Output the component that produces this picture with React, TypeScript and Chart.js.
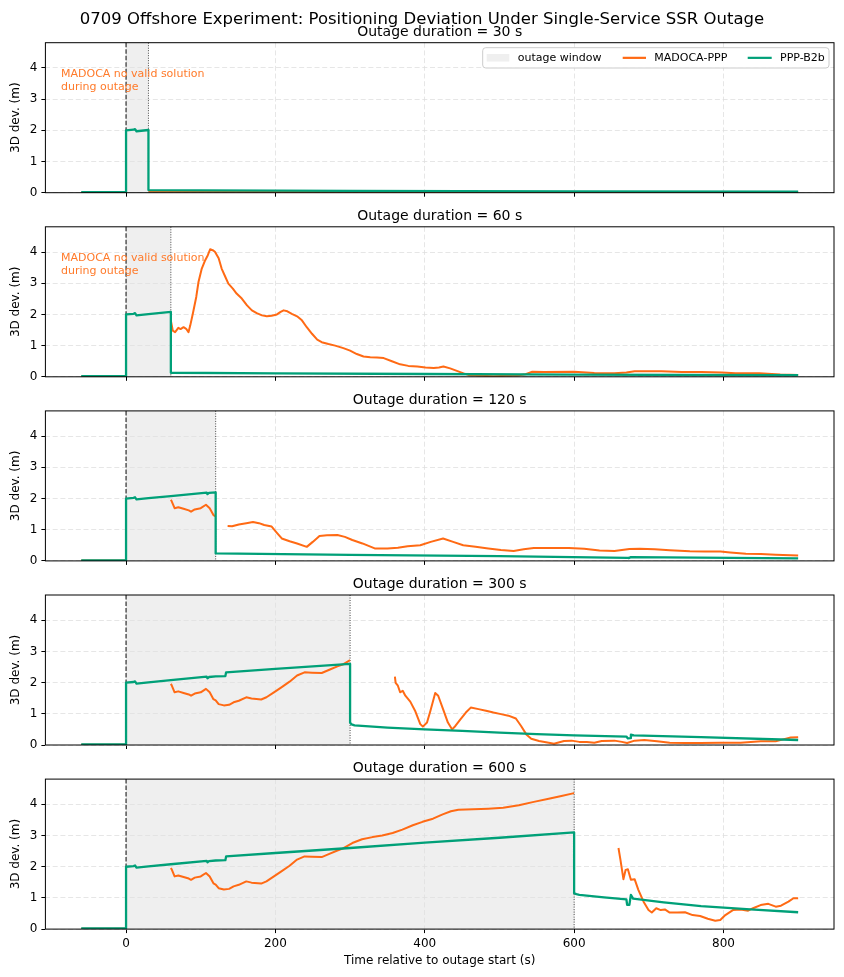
import React, { useEffect, useRef } from 'react';
import { Chart, registerables } from 'chart.js';

Chart.register(...registerables);

// ---------------------------------------------------------------------------
// Data
// ---------------------------------------------------------------------------
const DURATIONS = [30, 60, 120, 300, 600]; // outage length per run (s)
const MADOCA_NO_FIX = [true, true, false, false, false]; // MADOCA had no solution while SSR was out

const X_TICKS = [0, 200, 400, 600, 800];
const Y_TICKS = [0, 1, 2, 3, 4];
const X_MIN = -108;
const X_MAX = 948;
const Y_MIN = 0;
const Y_MAX = 4.81;

// lead-in before the outage starts
const PRE_T = [-60, -30, 0];
const B2B_PRE_V = [0.02, 0.02, 0.02];
const MADOCA_PRE_V = [0.01, 0.01, 0.01];

// PPP-B2b drift while the SSR stream is interrupted (common to all runs)
const B2B_OUTAGE_T = [0, 10, 12, 14, 30, 60, 108, 109, 111, 120, 133, 134, 200, 300, 400, 500, 600];
const B2B_OUTAGE_V = [2.0, 2.02, 2.04, 1.97, 2.01, 2.08, 2.19, 2.14, 2.18, 2.2, 2.21, 2.33, 2.44, 2.6, 2.77, 2.93, 3.1];

// MADOCA-PPP drift while its SSR stream is interrupted (runs >= 120 s)
const MADOCA_OUTAGE_T = [
  60, 61, 65, 70, 77, 84, 87, 92, 100, 107, 112, 117, 120, 124, 131, 138, 144, 151, 161, 168,
  181, 188, 198, 208, 219, 229, 239, 249, 262, 273, 283, 290, 300, 303, 316, 330, 343, 357, 370,
  384, 397, 411, 424, 435, 445, 465, 485, 505, 526, 546, 566, 583, 600,
];
const MADOCA_OUTAGE_V = [
  1.96, 1.92, 1.69, 1.72, 1.67, 1.62, 1.58, 1.65, 1.69, 1.8, 1.69, 1.47, 1.43, 1.31, 1.27, 1.29,
  1.37, 1.42, 1.53, 1.49, 1.46, 1.53, 1.69, 1.85, 2.03, 2.23, 2.33, 2.32, 2.31, 2.42, 2.52, 2.58,
  2.72, 2.76, 2.88, 2.95, 3.0, 3.08, 3.19, 3.33, 3.44, 3.54, 3.68, 3.78, 3.83, 3.84, 3.86, 3.89,
  3.97, 4.08, 4.18, 4.27, 4.36,
];

// PPP-B2b recovery after the stream returns
const B2B_AFTER_30_T = [30, 100, 300, 600, 900];
const B2B_AFTER_30_V = [0.085, 0.075, 0.06, 0.045, 0.03];
const B2B_AFTER_60_T = [60, 200, 400, 600, 900];
const B2B_AFTER_60_V = [0.13, 0.11, 0.09, 0.07, 0.05];
const B2B_AFTER_120_T = [120, 300, 500, 672, 673, 676, 900];
const B2B_AFTER_120_V = [0.24, 0.19, 0.15, 0.1, 0.09, 0.12, 0.08];
const B2B_AFTER_300_T = [300, 302, 306, 350, 400, 450, 500, 550, 600, 670, 672, 675, 676, 680, 770, 900];
const B2B_AFTER_300_V = [0.72, 0.66, 0.63, 0.56, 0.5, 0.45, 0.4, 0.35, 0.31, 0.27, 0.21, 0.22, 0.33, 0.31, 0.25, 0.16];
const B2B_AFTER_600_T = [600, 603, 607, 640, 670, 671, 674, 676, 679, 720, 770, 836, 900];
const B2B_AFTER_600_V = [1.15, 1.12, 1.1, 1.02, 0.95, 0.78, 0.78, 1.1, 0.98, 0.86, 0.74, 0.63, 0.54];

// MADOCA-PPP after the stream returns
const MADOCA_AFTER_30_T = [30, 150, 300, 500, 700, 900];
const MADOCA_AFTER_30_V = [0.03, 0.03, 0.02, 0.02, 0.02, 0.02];
const MADOCA_AFTER_60_T = [
  60, 62.6, 65.7, 70, 73, 77, 80.5, 83.6, 86, 89.4, 94, 97, 101.4, 106, 109.5, 112.6, 116, 119,
  124, 128, 133, 137, 143, 148, 155, 162, 168.5, 175, 182, 188.5, 195, 202, 207, 211, 216, 222,
  229, 235.5, 242, 249, 256, 262, 271, 280, 291, 300, 309, 318, 327, 336, 345, 356, 367, 378, 390,
  401, 412, 419, 425, 434, 443, 452, 459, 475, 492, 524, 535, 544, 560, 600, 627, 654, 670, 681,
  717, 744, 770, 798, 816, 848, 876, 900,
];
const MADOCA_AFTER_60_V = [
  1.8, 1.48, 1.43, 1.57, 1.53, 1.59, 1.54, 1.43, 1.65, 2.02, 2.56, 3.04, 3.47, 3.74, 3.9, 4.09,
  4.06, 4.01, 3.8, 3.47, 3.2, 2.99, 2.83, 2.67, 2.51, 2.29, 2.13, 2.04, 1.97, 1.94, 1.96, 2.0,
  2.08, 2.13, 2.1, 2.02, 1.94, 1.81, 1.59, 1.38, 1.19, 1.11, 1.05, 1.0, 0.92, 0.84, 0.73, 0.65,
  0.63, 0.62, 0.6, 0.5, 0.4, 0.35, 0.33, 0.3, 0.28, 0.3, 0.33, 0.27, 0.19, 0.11, 0.06, 0.03,
  0.02, 0.04, 0.08, 0.16, 0.15, 0.16, 0.12, 0.11, 0.14, 0.18, 0.18, 0.15, 0.15, 0.14, 0.11, 0.11,
  0.07, 0.06,
];
const MADOCA_AFTER_120_T = [
  136, 142, 151, 161, 170, 178, 185, 195, 202, 208.5, 219, 229, 242, 250, 259, 269, 283, 293, 303,
  316.5, 333, 350, 364, 377, 394, 408, 424.5, 438, 451.5, 468, 485, 502, 519, 532.5, 546, 566,
  593, 613.5, 634, 654, 674, 688, 708, 728, 755, 775, 796, 809, 830, 850, 870, 900,
];
const MADOCA_AFTER_120_V = [
  1.12, 1.11, 1.17, 1.21, 1.25, 1.21, 1.15, 1.1, 0.9, 0.72, 0.63, 0.56, 0.45, 0.61, 0.8, 0.82,
  0.83, 0.77, 0.67, 0.56, 0.4, 0.4, 0.42, 0.47, 0.5, 0.61, 0.72, 0.61, 0.5, 0.45, 0.4, 0.35, 0.32,
  0.37, 0.41, 0.41, 0.41, 0.39, 0.33, 0.32, 0.38, 0.39, 0.37, 0.34, 0.31, 0.3, 0.3, 0.27, 0.23,
  0.22, 0.2, 0.17,
];
const MADOCA_AFTER_300_T = [
  360, 361, 364, 367, 370.5, 374, 380.6, 387, 394, 397.5, 403, 407.6, 414, 418, 424.5, 431, 436.7,
  441, 448, 455, 461.6, 472, 482, 492, 502, 512, 522, 529, 536, 542.6, 553, 566, 573, 586.5,
  596.6, 607, 617, 627, 637, 654, 664, 671, 681, 694, 711, 728, 748.5, 769, 796, 823, 850, 870,
  880, 890, 900,
];
const MADOCA_AFTER_300_V = [
  2.19, 1.99, 1.9, 1.69, 1.74, 1.58, 1.39, 1.1, 0.67, 0.59, 0.72, 1.1, 1.67, 1.58, 1.15, 0.72, 0.5,
  0.61, 0.83, 1.04, 1.2, 1.15, 1.1, 1.04, 0.99, 0.94, 0.85, 0.61, 0.34, 0.2, 0.13, 0.075, 0.04,
  0.13, 0.14, 0.1, 0.1, 0.075, 0.13, 0.14, 0.1, 0.065, 0.14, 0.16, 0.12, 0.075, 0.065, 0.065,
  0.075, 0.075, 0.12, 0.12, 0.18, 0.24, 0.25,
];
const MADOCA_AFTER_600_T = [
  659.4, 662, 666, 669, 672, 676, 681, 686, 693, 699.6, 704, 710, 716, 721.5, 728, 738, 748.5,
  758.6, 768.7, 779, 789, 795.7, 802.5, 812.6, 823, 833, 839.6, 849.7, 860, 870, 877, 887, 893.7,
  900,
];
const MADOCA_AFTER_600_V = [
  2.6, 2.23, 1.6, 1.9, 1.92, 1.58, 1.6, 1.26, 0.88, 0.61, 0.53, 0.67, 0.61, 0.63, 0.53, 0.53, 0.54,
  0.45, 0.42, 0.33, 0.27, 0.29, 0.45, 0.61, 0.63, 0.59, 0.67, 0.77, 0.81, 0.72, 0.75, 0.88, 0.99,
  0.99,
];

const B2B_AFTER = [
  [B2B_AFTER_30_T, B2B_AFTER_30_V],
  [B2B_AFTER_60_T, B2B_AFTER_60_V],
  [B2B_AFTER_120_T, B2B_AFTER_120_V],
  [B2B_AFTER_300_T, B2B_AFTER_300_V],
  [B2B_AFTER_600_T, B2B_AFTER_600_V],
];
const MADOCA_AFTER = [
  [MADOCA_AFTER_30_T, MADOCA_AFTER_30_V],
  [MADOCA_AFTER_60_T, MADOCA_AFTER_60_V],
  [MADOCA_AFTER_120_T, MADOCA_AFTER_120_V],
  [MADOCA_AFTER_300_T, MADOCA_AFTER_300_V],
  [MADOCA_AFTER_600_T, MADOCA_AFTER_600_V],
];

// ---------------------------------------------------------------------------
// Styling / layout
// ---------------------------------------------------------------------------
const FONT = '"DejaVu Sans", "Liberation Sans", sans-serif';
const ORANGE = '#ff6a14';
const ORANGE_TEXT = '#ff7a2a';
const GREEN = '#00a078';
const SHADE = '#efefef';
const GRID = '#e0e0e0';

const FIG_W = 844;
const FIG_H = 977;
const AREA_LEFT = 45.4;
const AREA_RIGHT = 834;
const AREA_H = 150;
const FIRST_TOP = 42.7;
const PANEL_STEP = 184.1;

type Pt = { x: number; y: number | null };

const pts = (t: number[], v: number[]): Pt[] => t.map((x, i) => ({ x, y: v[i] }));

function b2bSeries(i: number): Pt[] {
  const d = DURATIONS[i];
  const [at, av] = B2B_AFTER[i];
  return [
    ...pts(PRE_T, B2B_PRE_V),
    ...pts(B2B_OUTAGE_T, B2B_OUTAGE_V).filter((p) => p.x <= d),
    ...pts(at, av),
  ];
}

function madocaSeries(i: number): Pt[] {
  const d = DURATIONS[i];
  const [at, av] = MADOCA_AFTER[i];
  const out: Pt[] = [...pts(PRE_T, MADOCA_PRE_V), { x: 0.5, y: null }];
  if (!MADOCA_NO_FIX[i]) {
    out.push(...pts(MADOCA_OUTAGE_T, MADOCA_OUTAGE_V).filter((p) => p.x <= d));
    out.push({ x: d + 0.5, y: null });
  }
  out.push(...pts(at, av));
  return out;
}

function geometry(i: number) {
  const last = i === DURATIONS.length - 1;
  const areaTop = FIRST_TOP + PANEL_STEP * i;
  const canvasTop = i === 0 ? 0 : Math.floor(areaTop - 30);
  const padTop = areaTop - canvasTop;
  const height = last ? FIG_H - canvasTop : Math.ceil(padTop + AREA_H + 14);
  const xh = height - padTop - AREA_H;
  return { last, canvasTop, padTop, height, xh };
}

function makeDecor(i: number) {
  const d = DURATIONS[i];
  return {
    id: 'decor' + i,
    beforeDraw(chart: any) {
      const { ctx, chartArea: a, scales } = chart;
      const x0 = scales.x.getPixelForValue(0);
      const x1 = scales.x.getPixelForValue(d);
      ctx.save();
      ctx.fillStyle = SHADE;
      ctx.fillRect(x0, a.top, x1 - x0, a.bottom - a.top);
      ctx.restore();
    },
    beforeDatasetsDraw(chart: any) {
      const { ctx, chartArea: a, scales } = chart;
      const x0 = scales.x.getPixelForValue(0);
      const x1 = scales.x.getPixelForValue(d);
      ctx.save();
      ctx.lineWidth = 1.1;
      ctx.strokeStyle = '#1e1e1e';
      ctx.setLineDash([4.5, 2]);
      ctx.beginPath();
      ctx.moveTo(x0, a.top);
      ctx.lineTo(x0, a.bottom);
      ctx.stroke();
      ctx.strokeStyle = '#333333';
      ctx.lineWidth = 0.9;
      ctx.setLineDash([1, 1.5]);
      ctx.beginPath();
      ctx.moveTo(x1, a.top);
      ctx.lineTo(x1, a.bottom);
      ctx.stroke();
      ctx.restore();
    },
    afterDraw(chart: any) {
      const { ctx, chartArea: a } = chart;
      ctx.save();
      // axes frame
      ctx.strokeStyle = '#000';
      ctx.lineWidth = 1;
      ctx.setLineDash([]);
      ctx.strokeRect(a.left, a.top, a.right - a.left, a.bottom - a.top);

      // panel title
      ctx.fillStyle = '#000';
      ctx.font = `14px ${FONT}`;
      ctx.textAlign = 'center';
      ctx.textBaseline = 'alphabetic';
      ctx.fillText(`Outage duration = ${d} s`, (a.left + a.right) / 2, a.top - 7);

      if (MADOCA_NO_FIX[i]) {
        ctx.fillStyle = ORANGE_TEXT;
        ctx.font = `11px ${FONT}`;
        ctx.textAlign = 'left';
        ctx.textBaseline = 'middle';
        ctx.fillText('MADOCA no valid solution', a.left + 15.6, a.top + 31.6);
        ctx.fillText('during outage', a.left + 15.6, a.top + 44);
      }

      if (i === 0) {
        // figure title
        ctx.fillStyle = '#000';
        ctx.font = `16.5px ${FONT}`;
        ctx.textAlign = 'center';
        ctx.textBaseline = 'alphabetic';
        ctx.fillText(
          '0709 Offshore Experiment: Positioning Deviation Under Single-Service SSR Outage',
          FIG_W / 2,
          23.5
        );

        // legend
        const bx = a.right - 351.3;
        const by = a.top + 5;
        const bw = 346.3;
        const bh = 20.3;
        ctx.fillStyle = 'rgba(255,255,255,0.85)';
        ctx.strokeStyle = '#cccccc';
        ctx.lineWidth = 1;
        ctx.beginPath();
        ctx.roundRect(bx, by, bw, bh, 3);
        ctx.fill();
        ctx.stroke();
        const cy = by + bh / 2;
        ctx.fillStyle = SHADE;
        ctx.fillRect(bx + 4, cy - 3.9, 22.6, 7.6);
        ctx.lineWidth = 2.2;
        ctx.strokeStyle = ORANGE;
        ctx.beginPath();
        ctx.moveTo(bx + 140, cy);
        ctx.lineTo(bx + 163.3, cy);
        ctx.stroke();
        ctx.strokeStyle = GREEN;
        ctx.beginPath();
        ctx.moveTo(bx + 265, cy);
        ctx.lineTo(bx + 289, cy);
        ctx.stroke();
        ctx.fillStyle = '#000';
        ctx.font = `11px ${FONT}`;
        ctx.textAlign = 'left';
        ctx.textBaseline = 'middle';
        ctx.fillText('outage window', bx + 35, cy);
        ctx.fillText('MADOCA-PPP', bx + 171.6, cy);
        ctx.fillText('PPP-B2b', bx + 297.3, cy);
      }
      ctx.restore();
    },
  };
}

function Panel({ index }: { index: number }) {
  const ref = useRef<HTMLCanvasElement | null>(null);
  const g = geometry(index);

  useEffect(() => {
    if (!ref.current) return;
    const tickFont = { family: FONT, size: 12 };
    const chart = new Chart(ref.current, {
      type: 'line',
      data: {
        datasets: [
          {
            label: 'PPP-B2b',
            data: b2bSeries(index) as any,
            borderColor: GREEN,
            borderWidth: 2.3,
            pointRadius: 0,
            tension: 0,
            spanGaps: false,
            borderJoinStyle: 'round',
            order: 0,
          },
          {
            label: 'MADOCA-PPP',
            data: madocaSeries(index) as any,
            borderColor: ORANGE,
            borderWidth: 2,
            pointRadius: 0,
            tension: 0,
            spanGaps: false,
            borderJoinStyle: 'round',
            order: 1,
          },
        ],
      },
      options: {
        responsive: false,
        animation: false,
        devicePixelRatio: 1,
        events: [],
        layout: { padding: { top: g.padTop, left: 0, right: FIG_W - AREA_RIGHT, bottom: 0 } },
        plugins: {
          legend: { display: false },
          tooltip: { enabled: false },
          title: { display: false },
        },
        scales: {
          x: {
            type: 'linear',
            min: X_MIN,
            max: X_MAX,
            afterBuildTicks: (s: any) => {
              s.ticks = X_TICKS.map((v) => ({ value: v }));
            },
            afterFit: (s: any) => {
              s.height = g.xh;
            },
            grid: {
              color: GRID,
              lineWidth: 0.8,
              drawTicks: true,
              tickLength: 4,
              tickColor: '#000',
              tickWidth: 1,
            },
            border: { display: false, dash: [5, 2.7] },
            ticks: {
              display: g.last,
              color: '#000',
              font: tickFont,
              padding: 4,
              maxRotation: 0,
              autoSkip: false,
            },
            title: {
              display: g.last,
              text: 'Time relative to outage start (s)',
              color: '#000',
              font: tickFont,
              padding: { top: 0, bottom: 9 },
            },
          },
          y: {
            type: 'linear',
            min: Y_MIN,
            max: Y_MAX,
            afterBuildTicks: (s: any) => {
              s.ticks = Y_TICKS.map((v) => ({ value: v }));
            },
            afterFit: (s: any) => {
              s.width = AREA_LEFT;
            },
            grid: {
              color: GRID,
              lineWidth: 0.8,
              drawTicks: true,
              tickLength: 4,
              tickColor: '#000',
              tickWidth: 1,
            },
            border: { display: false, dash: [5, 2.7] },
            ticks: { color: '#000', font: tickFont, padding: 4, autoSkip: false },
            title: {
              display: true,
              text: '3D dev. (m)',
              color: '#000',
              font: tickFont,
              padding: { top: 9, bottom: 0 },
            },
          },
        },
      },
      plugins: [makeDecor(index)],
    } as any);
    return () => chart.destroy();
  }, [index]);

  return (
    <canvas
      ref={ref}
      width={FIG_W}
      height={g.height}
      style={{ position: 'absolute', left: 0, top: g.canvasTop, width: FIG_W, height: g.height }}
    />
  );
}

export default function App() {
  return (
    <div
      style={{
        position: 'absolute',
        left: 0,
        top: 0,
        width: FIG_W,
        height: FIG_H,
        background: '#ffffff',
        overflow: 'hidden',
      }}
    >
      {DURATIONS.map((d, i) => (
        <Panel key={d} index={i} />
      ))}
    </div>
  );
}
